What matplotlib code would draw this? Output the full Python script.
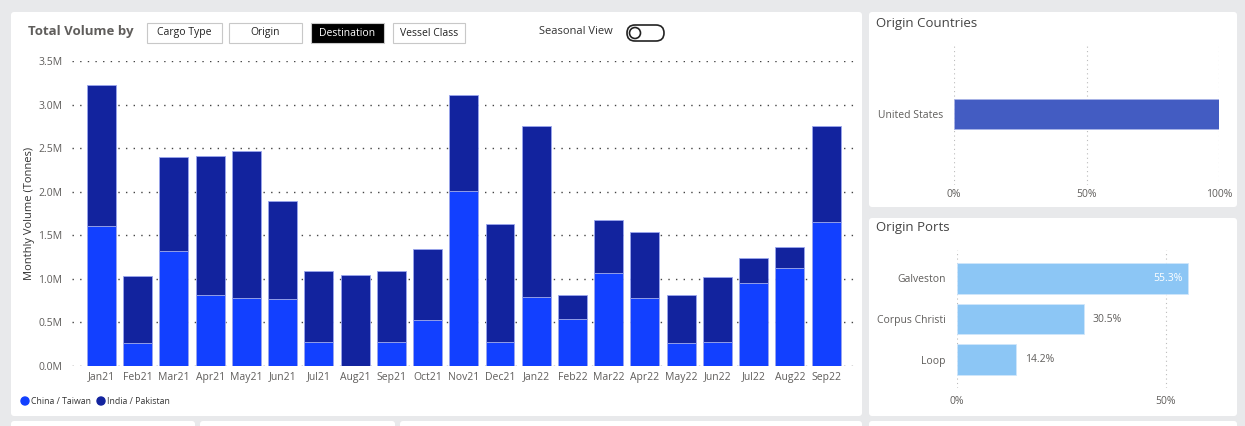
import matplotlib
matplotlib.use("Agg")
import matplotlib.pyplot as plt
import numpy as np
from matplotlib.patches import FancyBboxPatch, Rectangle, Circle

plt.rcParams['font.family'] = ['Open Sans', 'DejaVu Sans']

## Data
months = ["Jan21", "Feb21", "Mar21", "Apr21", "May21", "Jun21", "Jul21", "Aug21",
          "Sep21", "Oct21", "Nov21", "Dec21", "Jan22", "Feb22", "Mar22", "Apr22",
          "May22", "Jun22", "Jul22", "Aug22", "Sep22"]
total_vol = [3.23, 1.03, 2.40, 2.41, 2.47, 1.89, 1.09, 1.05, 1.09, 1.34, 3.11,
             1.63, 2.75, 0.82, 1.68, 1.54, 0.82, 1.02, 1.24, 1.36, 2.75]
china_vol = [1.61, 0.26, 1.32, 0.82, 0.78, 0.77, 0.28, 0.0, 0.27, 0.53, 2.01,
             0.27, 0.79, 0.54, 1.07, 0.78, 0.26, 0.27, 0.95, 1.12, 1.65]
india_vol = [t - c for t, c in zip(total_vol, china_vol)]

countries = ["United States"]
country_share = [100.0]

ports = ["Galveston", "Corpus Christi", "Loop"]
port_share = [55.3, 30.5, 14.2]

## Couleurs
c_china = "#1240ff"
c_india = "#12239e"
grey_txt = "#605e5c"
page_bg = "#e8e9eb"

W, H = 1245, 426
fig = plt.figure(figsize=(W / 100, H / 100), dpi=100)
fig.patch.set_facecolor(page_bg)

def fx(px):
    return px / W

def fy(py):
    return 1 - py / H

# fond: un axe en pixels qui couvre toute la figure
bg = fig.add_axes([0, 0, 1, 1], zorder=-10)
bg.set_xlim(0, W)
bg.set_ylim(H, 0)
bg.axis("off")

def card(x0, y0, x1, y1):
    bg.add_patch(FancyBboxPatch((x0, y0), x1 - x0, y1 - y0,
                                boxstyle="round,pad=0,rounding_size=3",
                                facecolor="white", edgecolor="none"))

card(11, 12, 862, 416)
card(869, 12, 1237, 207)
card(869, 218, 1237, 416)
# bouts des cartes du dessous
card(11, 421, 195, 432)
card(200, 421, 395, 432)
card(400, 421, 862, 432)
card(869, 421, 1237, 432)

##Graphique principal
ax = fig.add_axes([fx(72), fy(366), fx(855 - 72), (366 - 61) / H])
ax.set_facecolor("none")
x = np.arange(len(months))
ax.bar(x, china_vol, width=0.8, color=c_china, edgecolor="#9aa6ee", linewidth=0.6, zorder=3)
ax.bar(x, india_vol, width=0.8, bottom=china_vol, color=c_india, edgecolor="#9aa6ee",
       linewidth=0.6, zorder=3)
ax.set_xlim(-0.815, len(months) - 1 + 0.8)
ax.set_ylim(0, 3.5)
ax.set_yticks(np.arange(0, 3.51, 0.5))
ax.set_yticklabels([f"{v:.1f}M" for v in np.arange(0, 3.51, 0.5)])
ax.set_xticks(x)
ax.set_xticklabels(months)
ax.tick_params(length=0, labelsize=7.5, labelcolor=grey_txt)
ax.tick_params(axis="y", pad=7)
ax.tick_params(axis="x", pad=4)
ax.grid(axis="y", color="#444444", linestyle=(0, (1, 4.5)), linewidth=1.0, zorder=0)
for s in ax.spines.values():
    s.set_visible(False)
ax.set_ylabel("Monthly Volume (Tonnes)", fontsize=8, color="#333333")
ax.yaxis.set_label_coords((35 - 72) / (855 - 72), 0.5)

# titre et boutons
bg.text(28, 32, "Total Volume by", fontsize=9.5, fontweight="bold",
        color=grey_txt, va="center")
buttons = [("Cargo Type", 147, 222, False), ("Origin", 229, 302, False),
           ("Destination", 311, 384, True), ("Vessel Class", 393, 465, False)]
for label, bx0, bx1, active in buttons:
    bg.add_patch(Rectangle((bx0, 23), bx1 - bx0, 20,
                           facecolor="black" if active else "white",
                           edgecolor="#c8c8c8", linewidth=0.8))
    bg.text((bx0 + bx1) / 2, 33, label, fontsize=7.5, ha="center", va="center",
            color="white" if active else "#222222")

bg.text(576, 32, "Seasonal View", fontsize=8, ha="center", va="center", color="#333333")
bg.add_patch(FancyBboxPatch((627, 25), 37, 16, boxstyle="round,pad=0,rounding_size=8",
                            facecolor="white", edgecolor="#222222", linewidth=1.2))
bg.add_patch(Circle((635, 33), 5.5, facecolor="white", edgecolor="#222222", linewidth=1.2))

# légende
bg.add_patch(Circle((25, 401), 4, color=c_china))
bg.text(31, 401, "China / Taiwan", fontsize=6.3, va="center", color="#333333")
bg.add_patch(Circle((101, 401), 4, color=c_india))
bg.text(107, 401, "India / Pakistan", fontsize=6.3, va="center", color="#333333")

##Pays d'origine
ax2 = fig.add_axes([fx(954), fy(185), fx(1219 - 954), (185 - 43) / H])
ax2.set_facecolor("none")
ax2.barh(countries, country_share, height=0.42, color="#435cc2", edgecolor="#a9b3e6",
         linewidth=0.6, zorder=3)
ax2.set_xlim(0, 100)
ax2.set_ylim(-1, 1)
ax2.set_xticks([0, 50, 100])
ax2.set_xticklabels(["0%", "50%", "100%"])
ax2.tick_params(length=0, labelsize=7.5, labelcolor=grey_txt)
ax2.tick_params(axis="x", pad=3)
ax2.tick_params(axis="y", pad=8)
ax2.grid(axis="x", color="#bbbbbb", linestyle=(0, (1, 3)), linewidth=0.8, zorder=0)
for s in ax2.spines.values():
    s.set_visible(False)
bg.text(876, 23, "Origin Countries", fontsize=9.5, color="#444444", va="center")

##Ports d'origine
ax3 = fig.add_axes([fx(957), fy(388), fx(1232 - 957), (388 - 250) / H])
ax3.set_facecolor("none")
yp = np.arange(len(ports))
ax3.barh(yp, port_share, height=0.75, color="#8cc6f5", edgecolor="#cfe6fb",
         linewidth=0.6, zorder=3)
ax3.set_yticks(yp)
ax3.set_yticklabels(ports)
ax3.set_ylim(2.7, -0.7)
ax3.set_xlim(0, 65.8)
ax3.set_xticks([0, 50])
ax3.set_xticklabels(["0%", "50%"])
ax3.tick_params(length=0, labelsize=7.5, labelcolor=grey_txt)
ax3.tick_params(axis="x", pad=6)
ax3.tick_params(axis="y", pad=8)
ax3.grid(axis="x", color="#bbbbbb", linestyle=(0, (1, 3)), linewidth=0.8, zorder=0)
for s in ax3.spines.values():
    s.set_visible(False)
for i, v in enumerate(port_share):
    if v > 40:
        ax3.text(v - 1.2, i, f"{v:.1f}%", ha="right", va="center", fontsize=7.5,
                 color="white", zorder=4)
    else:
        ax3.text(v + 2.0, i, f"{v:.1f}%", ha="left", va="center", fontsize=7.5,
                 color=grey_txt, zorder=4)
bg.text(876, 228, "Origin Ports", fontsize=9.5, color="#444444", va="center")

plt.savefig("out.png", dpi=100, facecolor=fig.get_facecolor())
